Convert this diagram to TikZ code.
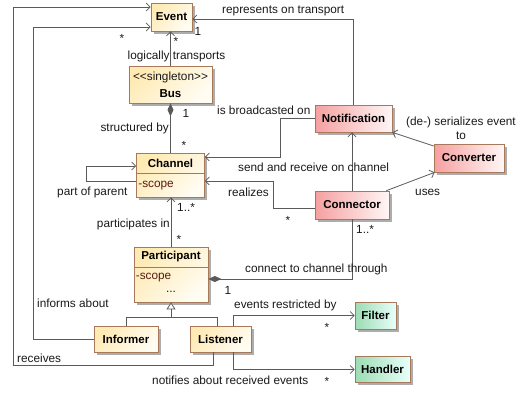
\documentclass[tikz,border=0pt]{standalone}
\usepackage{fontspec}
\setmainfont{Liberation Sans}
\usepackage{tikz}
\usetikzlibrary{arrows.meta,shadows}
\definecolor{umlline}{HTML}{5A5A5A}
\definecolor{umlborder}{HTML}{A8785A}
\definecolor{ylwA}{HTML}{FFEAB4}
\definecolor{ylwB}{HTML}{FFFCF2}
\definecolor{redA}{HTML}{F6A0A0}
\definecolor{redB}{HTML}{FFF6F6}
\definecolor{grnA}{HTML}{9CDCB4}
\definecolor{grnB}{HTML}{E8FFFA}
\definecolor{attrcol}{HTML}{5A1A10}

\begin{document}
\begin{tikzpicture}[x=1pt,y=-1pt,
  cls/.style={draw=umlborder,line width=0.7pt,inner sep=0,
    drop shadow={shadow xshift=2.5pt,shadow yshift=-2.5pt,fill=black!32,opacity=1},
    font=\fontsize{11.5}{13}\selectfont\bfseries},
  ybox/.style={cls,top color=ylwA,bottom color=ylwB,shading angle=45},
  rbox/.style={cls,left color=redA,right color=redB},
  gbox/.style={cls,left color=grnA,right color=grnB},
  clsname/.style={inner sep=0,font=\fontsize{11.5}{13}\selectfont\bfseries},
  attrtxt/.style={inner sep=0,text=attrcol,font=\fontsize{11.8}{14}\selectfont},
  lbl/.style={inner sep=0,text=black!90,font=\fontsize{11.8}{14}\selectfont},
  link/.style={draw=umlline,line width=0.8pt},
  assoc/.style={link,-{Straight Barb[length=4pt,width=8pt]}},
  compose/.style={link,{Diamond[length=13pt,width=6pt]}-},
  inherit/.style={link,-{Triangle[open,length=7pt,width=9pt,fill=white]}}]
\useasboundingbox (0,0) rectangle (524,392);
% classes
\node[ybox,minimum width=41,minimum height=28] (event) at (171.5,17) {Event};
\node[ybox,minimum width=83,minimum height=37] (bus) at (170.5,84.5) {};
\node[lbl] (busstereo) at (170.5,77) {<{}<singleton>{}>};
\node[clsname] (busname) at (170.5,94) {Bus};
\node[ybox,minimum width=68,minimum height=44] (channel) at (170.5,175) {};
\node[clsname] (channelname) at (170.5,163) {Channel};
\draw[draw=umlborder,line width=0.7pt] ([yshift=2pt]channel.west) -- ([yshift=2pt]channel.east);
\node[attrtxt,anchor=west] (channelscope) at ([xshift=2pt,yshift=-11pt]channel.west) {-scope};
\node[ybox,minimum width=74,minimum height=55] (participant) at (171,274.5) {};
\node[clsname] (participantname) at (171,257) {Participant};
\draw[draw=umlborder,line width=0.7pt] ([yshift=7.5pt]participant.west) -- ([yshift=7.5pt]participant.east);
\node[attrtxt,anchor=west] (participantscope) at ([xshift=2pt,yshift=-3.5pt]participant.west) {-scope};
\node[lbl] (participantdots) at (171,292) {...};
\node[ybox,minimum width=64,minimum height=26] (informer) at (126,339) {Informer};
\node[ybox,minimum width=61,minimum height=26] (listener) at (220.5,339) {Listener};
\node[rbox,minimum width=77,minimum height=27] (notification) at (353.5,118.5) {Notification};
\node[rbox,minimum width=70,minimum height=28] (converter) at (469,158) {Converter};
\node[rbox,minimum width=74,minimum height=28] (connector) at (352,205) {Connector};
\node[gbox,minimum width=41,minimum height=27] (filter) at (375.5,315.5) {Filter};
\node[gbox,minimum width=55,minimum height=26] (handler) at (382.5,369.5) {Handler};
% associations
\draw[assoc] ([xshift=-7.5pt]listener.south) |- (13,365) |- ([yshift=10pt]event.west);
\draw[assoc] (informer.west) -| (33,27) -- ([yshift=-10pt]event.west);
\draw[assoc] (bus.north) -- (bus.north |- event.south);
\draw[assoc] (notification.north) |- ([yshift=-2pt]event.east);
\draw[compose] (bus.south) -- (channel.north);
\draw[assoc] (notification.west) -| (280,157) -- ([yshift=18pt]channel.east);
\draw[assoc] (connector.north) -- (connector.north |- notification.south);
\draw[assoc] ([yshift=-6pt]channel.west) -- ++(-50,0) |- ([yshift=9pt]channel.west);
\draw[assoc] ([yshift=-3pt]connector.west) -| (273,181) -- ([yshift=-6pt]channel.east);
\draw[assoc] ([xshift=-3pt]connector.north east) -- ([xshift=1pt]converter.south west);
\draw[assoc] ([yshift=12pt]converter.west) -- (notification.south east);
\draw[assoc] (participant.north) -- (participant.north |- channel.south);
\draw[compose] ([yshift=-4.5pt]participant.east) -| (connector.south);
\draw[assoc] ([xshift=12.5pt]listener.north) |- (filter.west);
\draw[assoc] ([xshift=12.5pt]listener.south) |- (handler.west);
% generalization
\coordinate (genjoin) at (171,317);
\draw[link] (informer.north) |- (genjoin);
\draw[link] ([xshift=-3.5pt]listener.north) |- (genjoin);
\draw[inherit] (genjoin) -- (participant.south);
% labels
\node[lbl,anchor=west] (lblrepresents) at (222,11) {represents on transport};
\node[lbl] (mulrepone) at (198,31) {1};
\node[lbl] (mulevstar) at (176,41) {*};
\node[lbl] (mulinfstar) at (122,38) {*};
\node[lbl] (lbltransports) at (176.5,56) {logically transports};
\node[lbl,anchor=east] (lblstructured) at (169,128) {structured by};
\node[lbl] (mulbusone) at (186,113) {1};
\node[lbl] (mulchanstar) at (184,145) {*};
\node[lbl,anchor=west] (lblbroadcast) at (217,110) {is broadcasted on};
\node[lbl,anchor=west] (lblsendrecv) at (238,167) {send and receive on channel};
\node[lbl,anchor=west] (lblparent) at (57,192) {part of parent};
\node[lbl,anchor=west] (lblrealizes) at (228,192) {realizes};
\node[lbl] (mulrealstar) at (288,220) {*};
\node[lbl,anchor=west] (lbluses) at (415,192) {uses};
\node[lbl,align=center] (lblserialize) at (461,128) {(de-) serializes event\\to};
\node[lbl,anchor=east] (lblparticipates) at (170,224) {participates in};
\node[lbl,anchor=west] (mulchanmany) at (177,207) {1..*};
\node[lbl] (mulpartstar) at (179,239) {*};
\node[lbl,anchor=west] (lblconnect) at (245,269) {connect to channel through};
\node[lbl] (mulpartone) at (228,290) {1};
\node[lbl,anchor=west] (mulconnmany) at (356,229) {1..*};
\node[lbl,anchor=west] (lblinforms) at (37,303) {informs about};
\node[lbl,anchor=west] (lblreceives) at (17,358) {receives};
\node[lbl,anchor=west] (lblrestricted) at (234,305) {events restricted by};
\node[lbl] (mulfilterstar) at (327,327) {*};
\node[lbl,anchor=west] (lblnotifies) at (152,380) {notifies about received events};
\node[lbl] (mulhandlerstar) at (327,381) {*};
\end{tikzpicture}
\end{document}
